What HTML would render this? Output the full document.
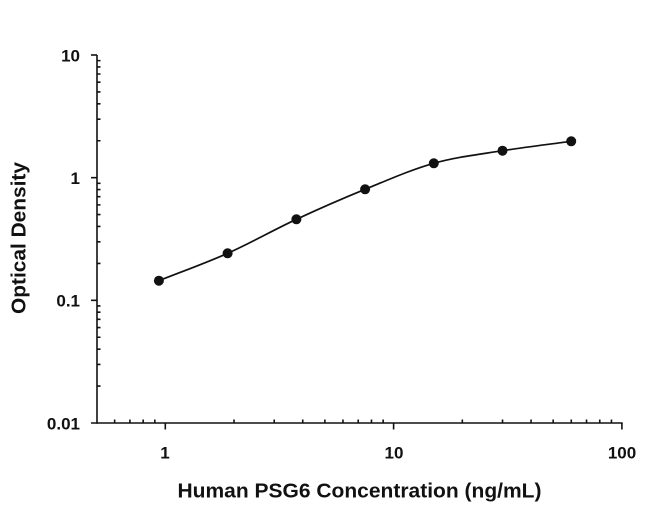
<!DOCTYPE html>
<html>
<head>
<meta charset="utf-8">
<style>
html,body{margin:0;padding:0;background:#fff;}
svg{display:block;}
text{font-family:"Liberation Sans",sans-serif;fill:#111;}
</style>
</head>
<body>
<svg width="650" height="508" viewBox="0 0 650 508" xmlns="http://www.w3.org/2000/svg">
<rect width="650" height="508" fill="#fff"/>
<g stroke="#111" stroke-width="1.6" fill="none">
  <!-- axes -->
  <line x1="97" y1="55" x2="97" y2="423.8"/>
  <line x1="91" y1="423" x2="622.7" y2="423"/>
  <!-- y major ticks -->
  <line x1="91" y1="55" x2="97" y2="55"/>
  <line x1="91" y1="177.67" x2="97" y2="177.67"/>
  <line x1="91" y1="300.33" x2="97" y2="300.33"/>
  <!-- y minor ticks -->
  <path d="M97 140.74h3.5M97 119.14h3.5M97 103.82h3.5M97 91.93h3.5M97 82.22h3.5M97 74h3.5M97 66.89h3.5M97 60.62h3.5
           M97 263.4h3.5M97 241.8h3.5M97 226.48h3.5M97 214.59h3.5M97 204.88h3.5M97 196.66h3.5M97 189.55h3.5M97 183.28h3.5
           M97 386.07h3.5M97 364.47h3.5M97 349.15h3.5M97 337.26h3.5M97 327.55h3.5M97 319.33h3.5M97 312.22h3.5M97 305.95h3.5"/>
  <!-- x major ticks -->
  <line x1="165.3" y1="423" x2="165.3" y2="429.5"/>
  <line x1="393.6" y1="423" x2="393.6" y2="429.5"/>
  <line x1="621.9" y1="423" x2="621.9" y2="429.5"/>
  <!-- x minor ticks -->
  <path d="M114.65 423v-3.5M129.93 423v-3.5M143.17 423v-3.5M154.85 423v-3.5
           M234.03 423v-3.5M274.23 423v-3.5M302.75 423v-3.5M324.88 423v-3.5M342.95 423v-3.5M358.23 423v-3.5M371.47 423v-3.5M383.15 423v-3.5
           M462.33 423v-3.5M502.53 423v-3.5M531.05 423v-3.5M553.18 423v-3.5M571.25 423v-3.5M586.53 423v-3.5M599.77 423v-3.5M611.45 423v-3.5"/>
  <!-- curve -->
  <path stroke-width="1.7" d="M158.9 280.7 C181.8 271.57 204.68 263.53 227.6 253.3 C250.52 243.07 273.48 229.97 296.4 219.3 C319.32 208.63 342.2 198.63 365.1 189.3 C388 179.97 410.9 169.73 433.8 163.3 C456.7 156.87 479.6 154.37 502.5 150.7 C525.4 147.03 548.3 144.43 571.2 141.3"/>
</g>
<g fill="#111">
  <circle cx="158.9" cy="280.7" r="5"/>
  <circle cx="227.6" cy="253.3" r="5"/>
  <circle cx="296.4" cy="219.3" r="5"/>
  <circle cx="365.1" cy="189.3" r="5"/>
  <circle cx="433.8" cy="163.3" r="5"/>
  <circle cx="502.5" cy="150.7" r="5"/>
  <circle cx="571.2" cy="141.3" r="5"/>
</g>
<g font-size="17" font-weight="bold" text-anchor="end">
  <text x="80" y="61.5">10</text>
  <text x="80" y="184">1</text>
  <text x="80" y="306.5">0.1</text>
  <text x="80" y="429.3">0.01</text>
</g>
<g font-size="17" font-weight="bold" text-anchor="middle">
  <text x="165" y="458.5">1</text>
  <text x="394" y="458.5">10</text>
  <text x="622" y="458.5">100</text>
</g>
<text x="177.5" y="497.5" font-size="20" font-weight="bold" textLength="364" lengthAdjust="spacingAndGlyphs">Human PSG6 Concentration (ng/mL)</text>
<text transform="translate(25.5,238) rotate(-90)" text-anchor="middle" font-size="20" font-weight="bold" textLength="152" lengthAdjust="spacingAndGlyphs">Optical Density</text>
</svg>
</body>
</html>
